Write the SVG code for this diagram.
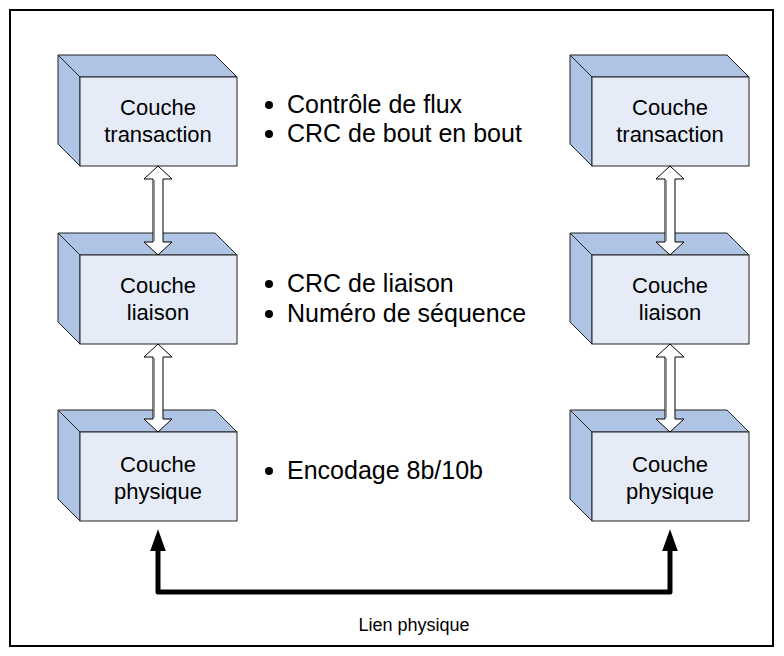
<svg xmlns="http://www.w3.org/2000/svg" width="784" height="656" viewBox="0 0 784 656">
<defs>
<style>
.front{fill:#E6ECF7;stroke:#222;stroke-width:1}
.face{fill:#AFC4E4;stroke:#222;stroke-width:1}
.lbl{font-family:"Liberation Sans",Arial,sans-serif;font-size:22px;fill:#000;text-anchor:middle}
.bul{font-family:"Liberation Sans",Arial,sans-serif;font-size:25px;fill:#000}
.cap{font-family:"Liberation Sans",Arial,sans-serif;font-size:18px;fill:#000;text-anchor:middle}
.dbl{fill:#fff;stroke:#000;stroke-width:1}
.shd{stroke:#999;stroke-width:1;fill:none}
</style>
<marker id="ah" markerUnits="userSpaceOnUse" markerWidth="22" markerHeight="30" viewBox="0 0 28 20" refX="4" refY="10" orient="auto-start-reverse">
<path d="M0,0 L28,10 L0,20 Z" fill="#000"/>
</marker>
</defs>
<rect x="10" y="10" width="763" height="636" fill="#fff" stroke="#000" stroke-width="2"/>

<g id="lt">
<polygon class="face" points="58,55 215,55 237,77 80,77"/>
<polygon class="face" points="58,55 80,77 80,166 58,144"/>
<rect class="front" x="80" y="77" width="157" height="89"/>
<text class="lbl" x="158" y="115">Couche</text>
<text class="lbl" x="158" y="142">transaction</text>
</g>
<g id="ll">
<polygon class="face" points="58,233 215,233 237,255 80,255"/>
<polygon class="face" points="58,233 80,255 80,344 58,322"/>
<rect class="front" x="80" y="255" width="157" height="89"/>
<text class="lbl" x="158" y="293">Couche</text>
<text class="lbl" x="158" y="320">liaison</text>
</g>
<g id="lp">
<polygon class="face" points="58,410 215,410 237,432 80,432"/>
<polygon class="face" points="58,410 80,432 80,521 58,499"/>
<rect class="front" x="80" y="432" width="157" height="89"/>
<text class="lbl" x="158" y="472">Couche</text>
<text class="lbl" x="158" y="499">physique</text>
</g>

<g id="rt">
<polygon class="face" points="570,55 727,55 749,77 592,77"/>
<polygon class="face" points="570,55 592,77 592,166 570,144"/>
<rect class="front" x="592" y="77" width="157" height="89"/>
<text class="lbl" x="670" y="115">Couche</text>
<text class="lbl" x="670" y="142">transaction</text>
</g>
<g id="rl">
<polygon class="face" points="570,233 727,233 749,255 592,255"/>
<polygon class="face" points="570,233 592,255 592,344 570,322"/>
<rect class="front" x="592" y="255" width="157" height="89"/>
<text class="lbl" x="670" y="293">Couche</text>
<text class="lbl" x="670" y="320">liaison</text>
</g>
<g id="rp">
<polygon class="face" points="570,410 727,410 749,432 592,432"/>
<polygon class="face" points="570,410 592,432 592,521 570,499"/>
<rect class="front" x="592" y="432" width="157" height="89"/>
<text class="lbl" x="670" y="472">Couche</text>
<text class="lbl" x="670" y="499">physique</text>
</g>

<g id="notes">
<circle cx="269" cy="105" r="4"/>
<text class="bul" x="287" y="113">Contrôle de flux</text>
<circle cx="269" cy="134" r="4"/>
<text class="bul" x="287" y="142">CRC de bout en bout</text>
<circle cx="269" cy="284" r="4"/>
<text class="bul" x="287" y="292">CRC de liaison</text>
<circle cx="269" cy="314" r="4"/>
<text class="bul" x="287" y="322">Numéro de séquence</text>
<circle cx="269" cy="471" r="4"/>
<text class="bul" x="287" y="479">Encodage 8b/10b</text>
</g>

<g id="connectors">
<polygon class="dbl" points="158,166 172,179 163,179 163,242 172,242 158,255 144,242 153,242 153,179 144,179"/>
<line class="shd" x1="154.5" y1="180" x2="154.5" y2="241"/>
<polygon class="dbl" points="158,344 172,357 163,357 163,419 172,419 158,432 144,419 153,419 153,357 144,357"/>
<line class="shd" x1="154.5" y1="358" x2="154.5" y2="418"/>
<polygon class="dbl" points="670,166 684,179 675,179 675,242 684,242 670,255 656,242 665,242 665,179 656,179"/>
<line class="shd" x1="666.5" y1="180" x2="666.5" y2="241"/>
<polygon class="dbl" points="670,344 684,357 675,357 675,419 684,419 670,432 656,419 665,419 665,357 656,357"/>
<line class="shd" x1="666.5" y1="358" x2="666.5" y2="418"/>
<path d="M158,548 V592 H670 V548" fill="none" stroke="#000" stroke-width="5" stroke-linejoin="round" marker-start="url(#ah)" marker-end="url(#ah)"/>
</g>
<text class="cap" x="414" y="631">Lien physique</text>
</svg>
